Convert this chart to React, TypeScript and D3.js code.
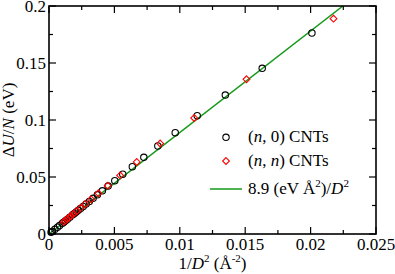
import * as d3 from "d3";

// (n,0) nanotubes: 1/D^2 (Å^-2) and ΔU/N (eV)
const zigzagX = [
  0.0201, 0.0163, 0.01348, 0.01133, 0.00965, 0.00832, 0.00725, 0.00637, 0.00564, 0.00503,
  0.00452, 0.00408, 0.0037, 0.00337, 0.00308, 0.00283, 0.00261, 0.00241, 0.00224, 0.00208,
  0.00194, 0.00181, 0.00159, 0.00141, 0.00126, 0.00113, 0.00102, 0.00081, 0.00065, 0.00045,
  0.00025, 0.00016,
];
const zigzagY = [
  0.1763, 0.1453, 0.1219, 0.1038, 0.0889, 0.0772, 0.0673, 0.059, 0.0524, 0.0468,
  0.042, 0.0379, 0.0344, 0.0313, 0.0286, 0.0263, 0.0242, 0.0224, 0.0208, 0.0193,
  0.018, 0.0168, 0.0147, 0.013, 0.0116, 0.0104, 0.0094, 0.0074, 0.006, 0.0041,
  0.0023, 0.0015,
];

// (n,n) nanotubes
const armchairX = [
  0.02175, 0.0151, 0.0111, 0.0085, 0.00671, 0.00544, 0.00449, 0.00378, 0.00322, 0.00277,
  0.00242, 0.00212, 0.00188, 0.00168, 0.00151, 0.00136, 0.00123, 0.00112,
];
const armchairY = [
  0.1889, 0.1357, 0.1018, 0.0794, 0.0632, 0.0514, 0.0424, 0.0357, 0.0304, 0.0262,
  0.0229, 0.02, 0.0178, 0.0159, 0.0143, 0.0129, 0.0117, 0.0106,
];

// fit 8.9 (eV Å^2)/D^2
const fitX = [0, 0.02247];
const fitY = [0, 0.2];

const xTicks = [0, 0.005, 0.01, 0.015, 0.02, 0.025];
const xTickLabels = ["0", "0.005", "0.01", "0.015", "0.02", "0.025"];
const xMinor = [0.0025, 0.0075, 0.0125, 0.0175, 0.0225];
const yTicks = [0, 0.05, 0.1, 0.15, 0.2];
const yTickLabels = ["0", "0.05", "0.1", "0.15", "0.2"];
const yMinor = [0.025, 0.075, 0.125, 0.175];

const W = 395;
const H = 274;
const margin = { top: 6, right: 19, bottom: 40, left: 49 };
const font = "Liberation Serif, DejaVu Serif, serif";
const fs = 17;
const sup = 11;
const green = "#15991a";

export default function App() {
  const x = d3.scaleLinear().domain([0, 0.025]).range([margin.left, W - margin.right]);
  const y = d3.scaleLinear().domain([0, 0.2]).range([H - margin.bottom, margin.top]);
  const x0 = x(0), x1 = x(0.025), y0 = y(0), y1 = y(0.2);

  const line = d3
    .line<number>()
    .x((_, i) => x(fitX[i]))
    .y((d) => y(d));

  const diamond = (cx: number, cy: number, r = 3.4) =>
    `M${cx},${cy - r}L${cx + r},${cy}L${cx},${cy + r}L${cx - r},${cy}Z`;

  const major = 7;
  const minor = 4;

  return (
    <svg
      width={W}
      height={H}
      style={{ position: "absolute", left: 0, top: 0, background: "#fff", fontFamily: font, fontSize: fs }}
    >
      <defs>
        <clipPath id="plot">
          <rect x={x0} y={y1} width={x1 - x0} height={y0 - y1} />
        </clipPath>
      </defs>

      {/* ticks */}
      <g stroke="#000" strokeWidth={1.2}>
        {xTicks.map((t) => (
          <g key={"xt" + t}>
            <line x1={x(t)} x2={x(t)} y1={y0} y2={y0 - major} />
            <line x1={x(t)} x2={x(t)} y1={y1} y2={y1 + major} />
          </g>
        ))}
        {xMinor.map((t) => (
          <g key={"xm" + t}>
            <line x1={x(t)} x2={x(t)} y1={y0} y2={y0 - minor} />
            <line x1={x(t)} x2={x(t)} y1={y1} y2={y1 + minor} />
          </g>
        ))}
        {yTicks.map((t) => (
          <g key={"yt" + t}>
            <line x1={x0} x2={x0 + major} y1={y(t)} y2={y(t)} />
            <line x1={x1} x2={x1 - major} y1={y(t)} y2={y(t)} />
          </g>
        ))}
        {yMinor.map((t) => (
          <g key={"ym" + t}>
            <line x1={x0} x2={x0 + minor} y1={y(t)} y2={y(t)} />
            <line x1={x1} x2={x1 - minor} y1={y(t)} y2={y(t)} />
          </g>
        ))}
      </g>

      {/* fit line */}
      <path
        d={line(fitY) || ""}
        fill="none"
        stroke={green}
        strokeWidth={1.5}
        clipPath="url(#plot)"
      />

      {/* (n,0) */}
      <g fill="none" stroke="#000" strokeWidth={1.1}>
        {zigzagX.map((v, i) => (
          <circle key={"z" + i} cx={x(v)} cy={y(zigzagY[i])} r={3.2} />
        ))}
      </g>

      {/* (n,n) */}
      <g fill="none" stroke="#ff0000" strokeWidth={1.1}>
        {armchairX.map((v, i) => (
          <path key={"a" + i} d={diamond(x(v), y(armchairY[i]))} />
        ))}
      </g>

      {/* frame */}
      <rect x={x0} y={y1} width={x1 - x0} height={y0 - y1} fill="none" stroke="#000" strokeWidth={1.6} />

      {/* tick labels */}
      {xTicks.map((t, i) => (
        <text key={"xl" + t} x={x(t)} y={y0 + 16} textAnchor="middle">
          {xTickLabels[i]}
        </text>
      ))}
      {yTicks.map((t, i) => (
        <text key={"yl" + t} x={x0 - 3} y={y(t) + 5.5} textAnchor="end">
          {yTickLabels[i]}
        </text>
      ))}

      {/* axis titles */}
      <text x={(x0 + x1) / 2} y={268.5} textAnchor="middle">
        1/<tspan fontStyle="italic">D</tspan>
        <tspan dy={-7} fontSize={sup}>2</tspan>
        <tspan dy={7}> (Å</tspan>
        <tspan dy={-7} fontSize={sup}>-2</tspan>
        <tspan dy={7}>)</tspan>
      </text>
      <text transform={`translate(14,${(y0 + y1) / 2}) rotate(-90)`} textAnchor="middle">
        Δ<tspan fontStyle="italic">U</tspan>/<tspan fontStyle="italic">N</tspan> (eV)
      </text>

      {/* legend */}
      <circle cx={226} cy={137.3} r={3.2} fill="none" stroke="#000" strokeWidth={1.1} />
      <text x={248} y={142}>
        (<tspan fontStyle="italic">n</tspan>, 0) CNTs
      </text>
      <path d={diamond(226, 161)} fill="none" stroke="#ff0000" strokeWidth={1.1} />
      <text x={248} y={165.5}>
        (<tspan fontStyle="italic">n</tspan>, <tspan fontStyle="italic">n</tspan>) CNTs
      </text>
      <line x1={210} x2={242} y1={189} y2={189} stroke={green} strokeWidth={1.5} />
      <text x={248} y={194}>
        8.9 (eV Å<tspan dy={-7} fontSize={sup}>2</tspan>
        <tspan dy={7}>)/</tspan>
        <tspan fontStyle="italic">D</tspan>
        <tspan dy={-7} fontSize={sup}>2</tspan>
      </text>
    </svg>
  );
}
